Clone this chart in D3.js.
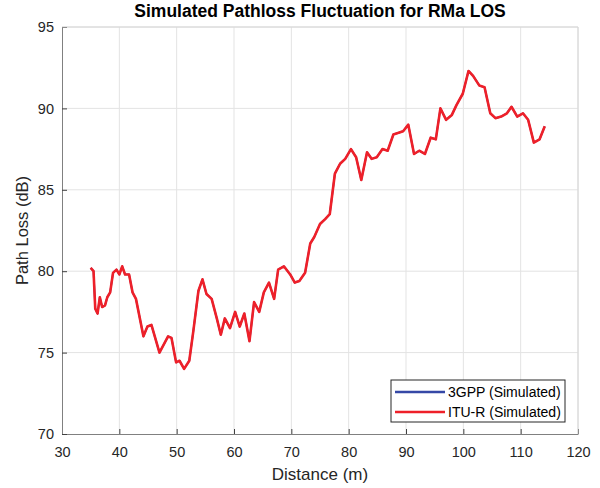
<!DOCTYPE html>
<html lang="en">
<head>
  <meta charset="UTF-8" />
  <title>Simulated Pathloss Fluctuation for RMa LOS</title>
  <style>
    body { margin: 0; background: #fff; font-family: "Liberation Sans", Arial, sans-serif; }
    svg { display: block; }
  </style>
</head>
<body>
  <svg id="chart"></svg>

  <script src="https://d3js.org/d3.v7.min.js"></script>
  <script>
    // distance (m)
    const distance = [35.0, 35.5, 35.8, 36.2, 36.6, 37.0, 37.5, 37.9, 38.4, 38.9, 39.5, 40.0, 40.5, 41.0, 41.7,
      42.3, 42.9, 44.2, 44.9, 45.6, 47.0, 48.5, 49.1, 49.9, 50.5, 51.3, 52.2, 52.9, 53.8, 54.5, 55.2, 56.1,
      57.0, 57.7, 58.4, 59.3, 60.2, 61.0, 61.8, 62.7, 63.5, 64.4, 65.2, 66.1, 67.0, 67.7, 68.7, 69.8, 70.6,
      71.4, 72.4, 73.3, 74.0, 74.5, 75.0, 75.9, 76.7, 77.6, 78.5, 79.4, 80.4, 81.3, 82.2, 83.2, 84.0, 84.9,
      85.9, 86.8, 87.8, 88.7, 89.5, 90.4, 91.4, 92.3, 93.3, 94.3, 95.2, 96.0, 97.0, 98.0, 98.8, 99.9, 100.9,
      101.7, 102.8, 103.7, 104.7, 105.6, 106.6, 107.6, 108.4, 109.4, 110.4, 111.3, 112.3, 113.3, 114.2];

    // ITU-R simulated path loss (dB)
    const ituLoss = [80.2, 80.0, 77.7, 77.4, 78.4, 77.8, 77.9, 78.4, 78.7, 79.9, 80.1, 79.8, 80.3, 79.8, 79.8,
      78.7, 78.3, 76.0, 76.6, 76.7, 75.0, 76.0, 75.9, 74.4, 74.5, 74.0, 74.5, 76.3, 78.8, 79.5, 78.6, 78.3,
      77.1, 76.1, 77.1, 76.5, 77.5, 76.6, 77.4, 75.7, 78.1, 77.5, 78.7, 79.3, 78.3, 80.1, 80.3, 79.8, 79.3,
      79.4, 79.9, 81.7, 82.1, 82.5, 82.9, 83.2, 83.5, 86.0, 86.6, 86.9, 87.5, 87.0, 85.6, 87.3, 86.9, 87.0,
      87.5, 87.4, 88.4, 88.5, 88.6, 89.0, 87.2, 87.4, 87.2, 88.2, 88.1, 90.0, 89.3, 89.6, 90.2, 90.9, 92.3,
      92.0, 91.4, 91.3, 89.7, 89.4, 89.5, 89.7, 90.1, 89.5, 89.7, 89.3, 87.9, 88.1, 88.9];

    // 3GPP simulated path loss: hidden under the red line in the picture, so same values
    const gppLoss = ituLoss.slice();

    const xTicks = [30, 40, 50, 60, 70, 80, 90, 100, 110, 120];
    const yTicks = [70, 75, 80, 85, 90, 95];
    const seriesNames = ["3GPP (Simulated)", "ITU-R (Simulated)"];
    const seriesColors = ["#3548a6", "#ee2029"];

    const W = 600, H = 488;
    const margin = { top: 27, right: 22, bottom: 54, left: 62 };
    const width = W - margin.left - margin.right;
    const height = H - margin.top - margin.bottom;

    const svg = d3.select("#chart").attr("width", W).attr("height", H);
    const g = svg.append("g").attr("transform", `translate(${margin.left},${margin.top})`);

    const x = d3.scaleLinear().domain([30, 120]).range([0, width]);
    const y = d3.scaleLinear().domain([70, 95]).range([height, 0]);

    // grid
    g.append("g").selectAll("line").data(xTicks.slice(1)).join("line")
      .attr("x1", d => x(d)).attr("x2", d => x(d))
      .attr("y1", 0).attr("y2", height)
      .attr("stroke", "#e3e3e3").attr("stroke-width", 1);
    g.append("g").selectAll("line").data(yTicks.slice(1)).join("line")
      .attr("x1", 0).attr("x2", width)
      .attr("y1", d => y(d)).attr("y2", d => y(d))
      .attr("stroke", "#e3e3e3").attr("stroke-width", 1);

    // axes (ticks point inward like MATLAB)
    const xAxis = g.append("g").attr("transform", `translate(0,${height})`)
      .call(d3.axisBottom(x).tickValues(xTicks).tickSizeInner(-5).tickSizeOuter(0).tickPadding(13));
    const yAxis = g.append("g")
      .call(d3.axisLeft(y).tickValues(yTicks).tickSizeInner(-5).tickSizeOuter(0).tickPadding(13));

    [xAxis, yAxis].forEach(a => {
      a.select(".domain").attr("stroke", "#808080");
      a.selectAll(".tick line").attr("stroke", "#404040");
      a.selectAll("text").attr("fill", "#262626")
        .style("font-family", "'Liberation Sans', Arial, sans-serif").style("font-size", "14.5px");
    });
    yAxis.selectAll("text").attr("dx", "5px");

    // light box on top and right
    g.append("line").attr("x1", 0).attr("x2", width).attr("y1", 0).attr("y2", 0)
      .attr("stroke", "#d6d6d6");
    g.append("line").attr("x1", width).attr("x2", width).attr("y1", 0).attr("y2", height)
      .attr("stroke", "#d6d6d6");

    // lines (3GPP drawn first and a bit thinner so it stays hidden)
    const line = d3.line().x((d, i) => x(distance[i])).y(d => y(d));
    const widths = [1.8, 2.6];
    [gppLoss, ituLoss].forEach((s, k) => {
      g.append("path").datum(s)
        .attr("fill", "none")
        .attr("stroke", seriesColors[k])
        .attr("stroke-width", widths[k])
        .attr("stroke-linejoin", "round")
        .attr("d", line);
    });

    // title and labels
    svg.append("text").attr("x", margin.left + width / 2).attr("y", 17)
      .attr("text-anchor", "middle").attr("fill", "#000")
      .style("font-weight", "bold").style("font-size", "17.5px")
      .text("Simulated Pathloss Fluctuation for RMa LOS");
    svg.append("text").attr("x", margin.left + width / 2).attr("y", 480)
      .attr("text-anchor", "middle").attr("fill", "#262626").style("font-size", "17px")
      .text("Distance (m)");
    svg.append("text").attr("transform", `translate(28,${margin.top + height / 2}) rotate(-90)`)
      .attr("text-anchor", "middle").attr("fill", "#262626").style("font-size", "16.5px")
      .text("Path Loss (dB)");

    // legend
    const lg = svg.append("g").attr("transform", "translate(391,380)");
    lg.append("rect").attr("width", 174).attr("height", 42)
      .attr("fill", "#fff").attr("stroke", "#262626").attr("stroke-width", 1);
    seriesNames.forEach((name, i) => {
      const ly = 12 + i * 20;
      lg.append("line").attr("x1", 4).attr("x2", 54).attr("y1", ly).attr("y2", ly)
        .attr("stroke", seriesColors[i]).attr("stroke-width", 2.4);
      lg.append("text").attr("x", 57).attr("y", ly + 5).attr("fill", "#000")
        .style("font-size", "14px").text(name);
    });
  </script>
</body>
</html>
